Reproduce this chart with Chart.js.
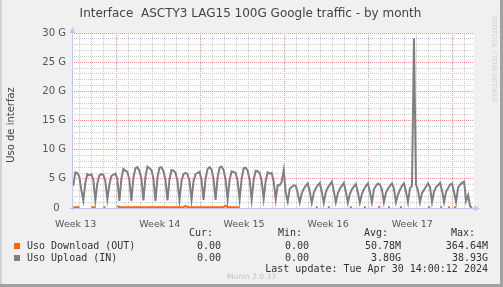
<!DOCTYPE html>
<html>
<head>
<meta charset="utf-8">
<script src="https://cdn.jsdelivr.net/npm/chart.js@4.4.1/dist/chart.umd.min.js"></script>
<style>
    html, body { margin: 0; padding: 0; background: #f0f0f0; }
    #graph { position: relative; width: 503px; height: 287px; overflow: hidden; background: #f0f0f0;
             font-family: "DejaVu Sans", sans-serif; color: #333; }
    #graph canvas { position: absolute; left: 0; top: 0; }
    .txt { position: absolute; white-space: pre; line-height: 12px; }
    .mono { font-family: "DejaVu Sans Mono", monospace; font-size: 10px; color: #333; }
    #title { left: 0; width: 501px; top: 6px; text-align: center; font-size: 12px; line-height: 14px; color: #444; }
    #ytitle { left: -49px; top: 119px; width: 120px; text-align: center; font-size: 10px; color: #444;
              transform: rotate(-90deg); }
    #watermark { left: 489px; top: 15px; font-size: 6.8px; line-height: 9px; color: #cfcfcf;
                 writing-mode: vertical-rl; }
    #munin { left: 227px; top: 272px; font-size: 7.5px; line-height: 9px; color: #c4c4c4; }
    .swatch { position: absolute; left: 14px; width: 6px; height: 6px; }
    .edge { position: absolute; }
</style>
</head>
<body>
<div id="graph">
    <canvas id="chart" width="503" height="287"></canvas>
    <div id="title" class="txt">Interface  ASCTY3 LAG15 100G Google traffic - by month</div>
    <div id="ytitle" class="txt">Uso de interfaz</div>
    <div id="watermark" class="txt">RRDTOOL / TOBI OETIKER</div>
    <div id="legend"></div>
    <div id="munin" class="txt">Munin 2.0.33</div>
    <div class="edge" style="left:0;top:0;width:2px;height:287px;background:#d2d2d2"></div>
    <div class="edge" style="right:0;top:0;width:3px;height:287px;background:#a2a2a2"></div>
    <div class="edge" style="left:0;bottom:0;width:503px;height:3px;background:#a2a2a2"></div>
</div>
<script>
// x axis is in days since the left edge of the graph
var xMaxDays = 33.43;
var firstSampleDay = 0.107;
var sampleStepDays = 4 / 24;
var weekLines = [3.66, 10.66, 17.66, 24.66, 31.66];
var weekLabelDays = [0.3, 7.3, 14.3, 21.3, 28.3];
var weekLabels = ['Week 13', 'Week 14', 'Week 15', 'Week 16', 'Week 17'];

var seriesNames = ['Uso Download (OUT)', 'Uso Upload (IN)'];
var seriesColors = ['#ff6600', '#7f7f7f'];

// Uso Upload (IN), G, one row per day starting at the daily low
var uploadIn = [
    3.8, 6.1, 6.0, 5.4, 3.1,
    1.3, 4.3, 5.8, 5.6, 5.8, 4.8,
    1.3, 4.2, 5.6, 5.8, 5.7, 4.6,
    1.5, 4.0, 5.5, 5.7, 5.9, 5.0,
    1.2, 5.0, 6.7, 6.4, 6.2, 4.8,
    1.2, 5.2, 6.8, 7.0, 6.4, 5.0,
    1.3, 5.3, 7.1, 6.8, 6.5, 5.0,
    1.2, 5.2, 6.9, 7.0, 6.3, 4.8,
    1.3, 4.9, 6.5, 6.4, 6.1, 4.6,
    1.4, 4.6, 5.8, 6.0, 5.8, 4.6,
    1.4, 4.6, 5.8, 6.0, 6.2, 4.8,
    1.4, 5.0, 6.7, 7.0, 6.6, 4.9,
    1.4, 5.2, 6.9, 7.1, 6.5, 4.8,
    1.5, 4.8, 6.3, 6.2, 6.0, 4.6,
    1.5, 5.0, 6.8, 6.9, 6.4, 4.8,
    1.4, 4.8, 6.4, 6.3, 6.0, 4.6,
    1.6, 4.6, 6.1, 5.9, 6.0, 4.5,
    1.5, 3.9, 3.9, 4.5, 6.5, 2.6,
    1.1, 3.3, 3.6, 3.9, 3.8, 2.5,
    1.0, 2.5, 3.3, 3.8, 4.2, 2.8,
    0.9, 2.6, 3.4, 3.9, 4.3, 2.7,
    0.9, 2.7, 3.5, 4.0, 4.5, 2.9,
    1.0, 2.5, 3.3, 3.8, 4.3, 2.8,
    0.9, 2.4, 3.2, 3.7, 4.1, 2.7,
    0.9, 2.4, 3.2, 3.8, 4.2, 2.8,
    1.0, 3.2, 3.8, 4.2, 4.0, 3.2,
    1.0, 2.6, 3.3, 3.8, 4.2, 3.3,
    1.0, 2.3, 3.1, 3.8, 4.2, 2.8,
    1.0, 3.4, 3.8, 29.1, 4.0, 3.0,
    1.0, 2.6, 3.1, 3.7, 4.2, 3.6,
    1.0, 2.8, 3.6, 3.9, 4.3, 3.0,
    1.0, 2.8, 3.4, 4.0, 4.2, 2.7,
    1.0, 3.5, 4.0, 4.3, 4.5, 1.2,
    2.2, 0.3, 0.0
];

// Uso Download (OUT), G, same samples; null = nothing drawn
var n = null;
var downloadOut = [
    0.15, 0.15, 0.15, 0.15, n,
    n, n, n, n, 0.15, 0.15,
    0.15, n, n, n, 0.15, 0.15,
    n, n, n, n, n, 0.35,
    0.15, 0.15, 0.15, 0.15, 0.15, 0.15,
    0.15, 0.15, 0.15, 0.15, 0.15, 0.15,
    0.15, 0.15, 0.15, 0.15, 0.15, 0.15,
    0.15, 0.15, 0.15, 0.15, 0.15, 0.15,
    0.15, 0.15, 0.15, 0.15, 0.15, 0.15,
    0.15, 0.15, 0.15, 0.35, 0.15, 0.15,
    0.15, 0.15, 0.15, 0.15, 0.15, 0.15,
    0.15, 0.15, 0.15, 0.15, 0.15, 0.15,
    0.15, 0.15, 0.15, 0.15, 0.15, 0.4,
    0.15, 0.15, 0.15, 0.15, 0.15, 0.15,
    0.15, n, n, n, n, n,
    n, n, n, n, n, n,
    n, n, n, n, n, n,
    n, n, n, n, n, n,
    n, n, n, n, n, n,
    n, n, n, n, n, n,
    n, n, 0.15, 0.15, n, n,
    n, n, 0.15, 0.15, n, n,
    n, n, n, n, n, n,
    n, 0.15, 0.15, n, n, n,
    n, n, 0.15, 0.15, n, n,
    n, n, n, 0.15, 0.15, n,
    n, n, 0.15, 0.15, n, n,
    n, n, 0.15, 0.15, n, n,
    n, n, n, n, n, n,
    n, n, n, n, 0.15, 0.15,
    n, n, n, n, 0.15, 0.15,
    n, n, 0.15, 0.15, n, 0.15,
    0.15, n, n
];

var statHeads = ['Cur:', 'Min:', 'Avg:', 'Max:'];
var downloadStats = ['0.00', '0.00', '50.78M', '364.64M'];
var uploadStats = ['0.00', '0.00', '3.80G', '38.93G'];
var lastUpdate = 'Last update: Tue Apr 30 14:00:12 2024';

function toPoints(values) {
    return values.map(function(v, i) {
        return {x: firstSampleDay + i * sampleStepDays, y: v};
    });
}

function isWeekLine(v) {
    return weekLines.some(function(w) { return Math.abs(w - v) < 0.01; });
}

// legend block under the graph
function buildLegend() {
    var box = document.getElementById('legend');
    var headRight = [213, 302, 388, 475];
    var valueRight = [221, 309, 401, 488];
    var rowTops = [240, 252];
    var rows = [downloadStats, uploadStats];

    function addText(text, right, top) {
        var d = document.createElement('div');
        d.className = 'txt mono';
        d.style.right = (503 - right) + 'px';
        d.style.top = top + 'px';
        d.textContent = text;
        box.appendChild(d);
    }

    statHeads.forEach(function(h, i) { addText(h, headRight[i], 227); });
    rows.forEach(function(stats, r) {
        var sw = document.createElement('div');
        sw.className = 'swatch';
        sw.style.top = (rowTops[r] + 3) + 'px';
        sw.style.background = seriesColors[r];
        box.appendChild(sw);

        var name = document.createElement('div');
        name.className = 'txt mono';
        name.style.left = '27px';
        name.style.top = rowTops[r] + 'px';
        name.textContent = seriesNames[r];
        box.appendChild(name);

        stats.forEach(function(s, i) { addText(s, valueRight[i], rowTops[r]); });
    });
    addText(lastUpdate, 488, 263);
}

var plotBackground = {
    id: 'plotBackground',
    beforeDraw: function(chart) {
        var a = chart.chartArea;
        var c = chart.ctx;
        c.save();
        c.fillStyle = '#ffffff';
        c.fillRect(a.left, a.top, a.right - a.left, a.bottom - a.top);
        c.restore();
    }
};

// rrdtool style axes with little arrow heads
var axisArrows = {
    id: 'axisArrows',
    afterDatasetsDraw: function(chart) {
        var a = chart.chartArea;
        var c = chart.ctx;
        var x0 = a.left + 0.5, y0 = a.bottom + 0.5;
        c.save();
        c.strokeStyle = '#c4c4f4';
        c.fillStyle = '#c4c4f4';
        c.lineWidth = 1;
        c.beginPath();
        c.moveTo(x0, y0 + 2);
        c.lineTo(x0, a.top - 1);
        c.moveTo(x0 - 3, y0);
        c.lineTo(a.right + 1, y0);
        c.stroke();
        c.beginPath();
        c.moveTo(x0 - 3, a.top);
        c.lineTo(x0 + 3, a.top);
        c.lineTo(x0, a.top - 6);
        c.closePath();
        c.fill();
        c.beginPath();
        c.moveTo(a.right, y0 - 3);
        c.lineTo(a.right, y0 + 3);
        c.lineTo(a.right + 6, y0);
        c.closePath();
        c.fill();
        c.restore();
    }
};

function drawChart() {
    var dayTicks = [];
    for (var d = weekLines[0] - 3; d < xMaxDays; d += 1) dayTicks.push({value: d});
    var gigaTicks = [];
    for (var g = 0; g <= 30; g++) gigaTicks.push({value: g});

    new Chart(document.getElementById('chart'), {
        type: 'line',
        data: {
            datasets: [{
                label: seriesNames[1],
                data: toPoints(uploadIn),
                borderColor: seriesColors[1],
                borderWidth: 2,
                pointRadius: 0,
                tension: 0,
            }, {
                label: seriesNames[0],
                data: toPoints(downloadOut),
                borderColor: seriesColors[0],
                borderWidth: 2,
                pointRadius: 0,
                tension: 0,
            }],
        },
        options: {
            responsive: false,
            animation: false,
            devicePixelRatio: 1,
            layout: {padding: {top: 33, right: 29, left: 0, bottom: 0}},
            plugins: {legend: {display: false}, tooltip: {enabled: false}},
            scales: {
                x: {
                    type: 'linear',
                    position: 'bottom',
                    min: 0,
                    max: xMaxDays,
                    afterBuildTicks: function(s) { s.ticks = dayTicks.slice(); },
                    afterFit: function(s) { s.height = 0; },
                    ticks: {display: false},
                    grid: {
                        drawTicks: false,
                        color: function(c) { return isWeekLine(c.tick.value) ? '#f09a9a' : '#cdcdcd'; },
                    },
                    border: {display: false, dash: [1, 1]},
                },
                xw: {
                    type: 'linear',
                    position: 'bottom',
                    min: 0,
                    max: xMaxDays,
                    afterBuildTicks: function(s) {
                        s.ticks = weekLabelDays.map(function(v) { return {value: v}; });
                    },
                    afterFit: function(s) { s.height = 79; },
                    ticks: {
                        autoSkip: false,
                        maxRotation: 0,
                        padding: 3,
                        color: '#555',
                        font: {family: 'DejaVu Sans', size: 9.5},
                        callback: function(v, i) { return weekLabels[i]; },
                    },
                    grid: {display: false},
                    border: {display: false},
                },
                y: {
                    min: 0,
                    max: 30,
                    afterBuildTicks: function(s) { s.ticks = gigaTicks.slice(); },
                    afterFit: function(s) { s.width = 72; },
                    ticks: {
                        autoSkip: false,
                        padding: 6,
                        color: '#555',
                        font: {family: 'DejaVu Sans', size: 10},
                        callback: function(v) {
                            if (v % 5 !== 0) return '';
                            return v === 0 ? '0  ' : v + ' G';
                        },
                    },
                    grid: {
                        drawTicks: false,
                        color: function(c) { return c.tick.value % 5 === 0 ? '#f09a9a' : '#cdcdcd'; },
                    },
                    border: {display: false, dash: [1, 1]},
                },
            },
        },
        plugins: [plotBackground, axisArrows],
    });
}

buildLegend();
drawChart();
</script>
</body>
</html>
